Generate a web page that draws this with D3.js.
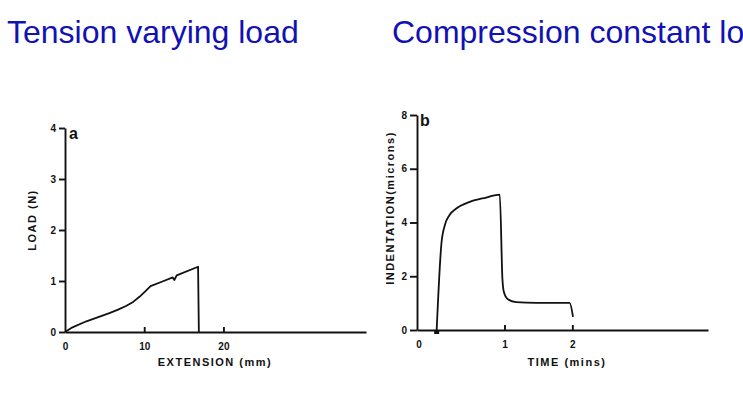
<!DOCTYPE html>
<html lang="en">
    <head>
        <meta charset="utf-8">
        <title>Tension and compression</title>
        <script type="text/javascript" src="https://cdn.jsdelivr.net/npm/d3@7"></script>
        <style>
            body { margin: 0; background: #fff; }
            .title { font-family: "Liberation Sans", Arial, sans-serif; font-size: 32px; fill: #1212b4; }
            .tick text, .origin { font-family: "Liberation Sans", Arial, sans-serif; font-size: 10px; font-weight: bold; fill: #111; }
            .lbl { font-family: "Liberation Sans", Arial, sans-serif; font-size: 11px; font-weight: bold; fill: #111; letter-spacing: 1.5px; }
            .panel { font-family: "Liberation Sans", Arial, sans-serif; font-size: 16px; font-weight: bold; fill: #111; }
            .domain, .tick line { stroke: #111; stroke-width: 1.9px; }
        </style>
    </head>
    <body>
        <script type="text/javascript">
            var w = 743;
            var h = 394;

            // panel a: tension, varying load
            var extension = [0, 0.8, 2.7, 4.2, 5.6, 6.7, 7.7, 8.6, 9.4, 10.1, 10.8, 12.3, 13.6, 13.8, 14.1, 16.8, 16.9];
            var load      = [0, 0.08, 0.21, 0.29, 0.37, 0.44, 0.51, 0.59, 0.69, 0.79, 0.9, 0.99, 1.07, 1.02, 1.11, 1.28, 0];
            var aXTicks = [0, 10, 20];
            var aYTicks = [0, 1, 2, 3, 4];

            // panel b: compression, constant load
            var time        = [0, 0.07, 0.12, 0.19, 0.29, 0.49, 0.73, 0.93, 0.97, 0.99, 1.05, 1.17, 1.47, 1.96, 2.01];
            var indentation = [0, 3.22, 3.9, 4.28, 4.52, 4.77, 4.93, 5.04, 1.86, 1.42, 1.14, 1.04, 1.01, 1.01, 0.49];
            var bXTicks = [1, 2];
            var bYTicks = [0, 2, 4, 6, 8];

            var svg = d3.select("body").append("svg").attr("width", w).attr("height", h);

            svg.append("text").attr("class", "title").attr("x", 7).attr("y", 43).text("Tension varying load");
            svg.append("text").attr("class", "title").attr("x", 392).attr("y", 43).text("Compression constant load");

            //----- panel a -----
            var xa = d3.scaleLinear().domain([0, 38]).range([65, 366]);
            var ya = d3.scaleLinear().domain([0, 4]).range([332, 128]);

            var axA = svg.append("g").attr("transform", "translate(0,332)")
                .call(d3.axisBottom(xa).tickValues(aXTicks).tickFormat(d3.format("d"))
                    .tickSizeInner(-5).tickSizeOuter(0).tickPadding(9));
            axA.selectAll(".tick text").attr("dy", "0.9em");
            axA.selectAll(".tick").filter(function(d) { return d === 0; }).select("line").remove();
            svg.append("g").attr("transform", "translate(65,0)")
                .call(d3.axisLeft(ya).tickValues(aYTicks).tickFormat(d3.format("d"))
                    .tickSizeInner(6).tickSizeOuter(0).tickPadding(3));

            var lineA = d3.line().x(function(d) { return xa(d[0]); }).y(function(d) { return ya(d[1]); });
            svg.append("path")
                .datum(d3.zip(extension, load))
                .attr("d", lineA)
                .attr("fill", "none").attr("stroke", "#111").attr("stroke-width", 1.8)
                .attr("stroke-linejoin", "round");

            svg.append("text").attr("class", "panel").attr("x", 69).attr("y", 139).text("a");
            svg.append("text").attr("class", "lbl").attr("x", 215).attr("y", 366).attr("text-anchor", "middle").text("EXTENSION (mm)");
            svg.append("text").attr("class", "lbl").attr("text-anchor", "middle")
                .attr("transform", "translate(36,220) rotate(-90)").text("LOAD (N)");

            //----- panel b -----
            var xb = d3.scaleLinear().domain([-0.29, 4]).range([417, 708]);
            var yb = d3.scaleLinear().domain([0, 8]).range([330, 115]);

            svg.append("g").attr("transform", "translate(0,330)")
                .call(d3.axisBottom(xb).tickValues(bXTicks).tickFormat(d3.format("d"))
                    .tickSizeInner(-5).tickSizeOuter(0).tickPadding(9))
                .selectAll(".tick text").attr("dy", "0.9em");
            svg.append("g").attr("transform", "translate(417,0)")
                .call(d3.axisLeft(yb).tickValues(bYTicks).tickFormat(d3.format("d"))
                    .tickSizeInner(7).tickSizeOuter(0).tickPadding(3));
            // origin label at the axis corner
            svg.append("text").attr("class", "origin").attr("x", xb(-0.29) + 2).attr("y", 348)
                .attr("text-anchor", "middle").text("0");

            var lineB = d3.line().x(function(d) { return xb(d[0]); }).y(function(d) { return yb(d[1]); })
                .curve(d3.curveMonotoneX);
            svg.append("path")
                .datum(d3.zip(time, indentation))
                .attr("d", lineB)
                .attr("fill", "none").attr("stroke", "#111").attr("stroke-width", 1.8)
                .attr("stroke-linejoin", "round");

            // load-on marker
            svg.append("rect").attr("x", xb(0) - 2.5).attr("y", yb(0)).attr("width", 5).attr("height", 4).attr("fill", "#111");

            svg.append("text").attr("class", "panel").attr("x", 420).attr("y", 126).text("b");
            svg.append("text").attr("class", "lbl").attr("x", 567).attr("y", 366).attr("text-anchor", "middle").text("TIME (mins)");
            svg.append("text").attr("class", "lbl").attr("text-anchor", "middle")
                .attr("transform", "translate(394,208) rotate(-90)").text("INDENTATION(microns)");
        </script>
    </body>
</html>
